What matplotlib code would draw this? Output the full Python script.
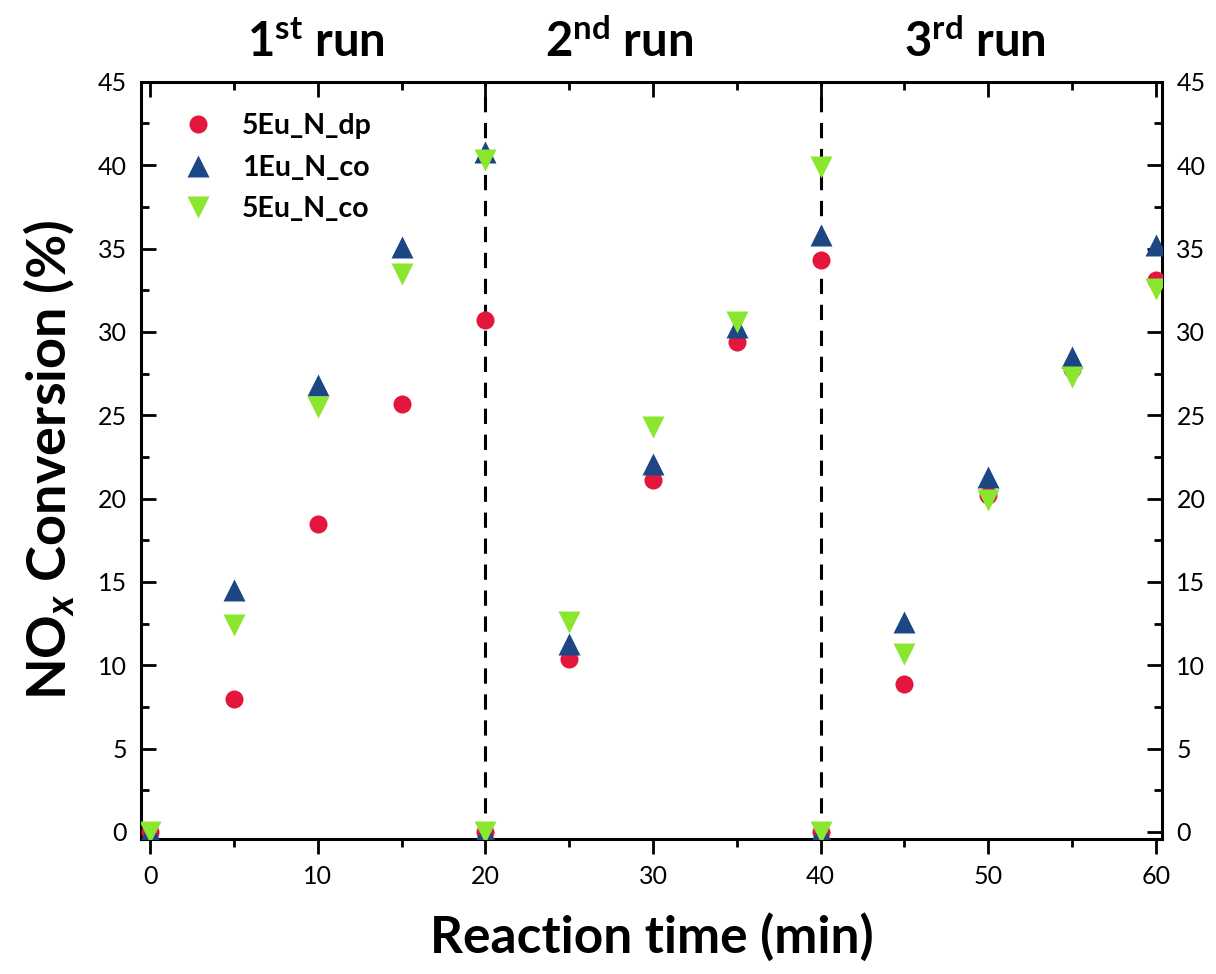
import numpy as np
import matplotlib.pyplot as plt
from matplotlib.ticker import MultipleLocator

plt.rcParams['font.family'] = ['Lato', 'DejaVu Sans']
plt.rcParams['mathtext.fontset'] = 'custom'
plt.rcParams['mathtext.rm'] = 'Lato:bold'
plt.rcParams['mathtext.bf'] = 'Lato:bold'
plt.rcParams['mathtext.it'] = 'Lato:bold:italic'

time = [0, 5, 10, 15, 20, 20, 25, 30, 35, 40, 40, 45, 50, 55, 60]
eu5_dp = [0, 8.0, 18.5, 25.7, 30.7, 0, 10.4, 21.1, 29.4, 34.3, 0, 8.9, 20.2, 27.8, 33.1]
eu1_co = [0, 14.5, 26.8, 35.1, 40.8, 0, 11.3, 22.1, 30.3, 35.8, 0, 12.6, 21.3, 28.5, 35.2]
eu5_co = [0, 12.4, 25.5, 33.5, 40.3, 0, 12.6, 24.3, 30.6, 39.9, 0, 10.7, 19.9, 27.3, 32.6]

run_bounds = [20, 40]
run_labels = ['1$^{\\mathrm{st}}$ run', '2$^{\\mathrm{nd}}$ run', '3$^{\\mathrm{rd}}$ run']
run_label_x = [9.9, 28.0, 49.2]

fig = plt.figure(figsize=(12.16, 9.74), dpi=100)
ax = fig.add_axes([0.116, 0.139, 0.840, 0.777])

for xb in run_bounds:
    ax.axvline(xb, color='black', lw=2.2, ls=(0, (5, 3.5)), zorder=1)

ax.plot(time, eu5_dp, 'o', color='#E3173E', ms=13, mec='none', label='5Eu_N_dp', zorder=3)
ax.plot(time, eu1_co, '^', color='#1D4684', ms=15.5, mec='none', label='1Eu_N_co', zorder=3)
ax.plot(time, eu5_co, 'v', color='#8AE62E', ms=15.5, mec='none', label='5Eu_N_co', zorder=3)

ax.set_xlim(-0.55, 60.4)
ax.set_ylim(-0.4, 45)

ax.xaxis.set_major_locator(MultipleLocator(10))
ax.xaxis.set_minor_locator(MultipleLocator(5))
ax.yaxis.set_major_locator(MultipleLocator(5))
ax.yaxis.set_minor_locator(MultipleLocator(2.5))

for s in ax.spines.values():
    s.set_linewidth(2.2)

ax.tick_params(axis='x', which='both', direction='out', top=False, labelsize=18, width=2, pad=8)
ax.tick_params(axis='x', which='major', length=11)
ax.tick_params(axis='x', which='minor', length=6)
ax.tick_params(axis='y', which='both', direction='in', left=True, right=True,
               labelleft=True, labelright=True, labelsize=18, width=2, pad=10)
ax.tick_params(axis='y', which='major', length=11)
ax.tick_params(axis='y', which='minor', length=6)

top = ax.secondary_xaxis('top')
top.xaxis.set_major_locator(MultipleLocator(10))
top.xaxis.set_minor_locator(MultipleLocator(5))
top.tick_params(which='both', direction='in', labeltop=False, width=2)
top.tick_params(which='major', length=11)
top.tick_params(which='minor', length=6)

ax.set_xlabel('Reaction time (min)', fontsize=37, fontweight='bold', labelpad=18)
ax.set_ylabel('NO$_{\\mathit{x}}$ Conversion (%)', fontsize=39, fontweight='bold', labelpad=16)

for lx, lt in zip(run_label_x, run_labels):
    ax.text(lx, 46.0, lt, fontsize=34, fontweight='bold', ha='center', va='bottom')

ax.legend(loc='upper left', frameon=False, prop={'weight': 'bold', 'size': 20.5},
          handletextpad=0.55, borderaxespad=0.3, labelspacing=0.55, bbox_to_anchor=(0.008, 0.985))

fig.savefig('out.png', dpi=100)
